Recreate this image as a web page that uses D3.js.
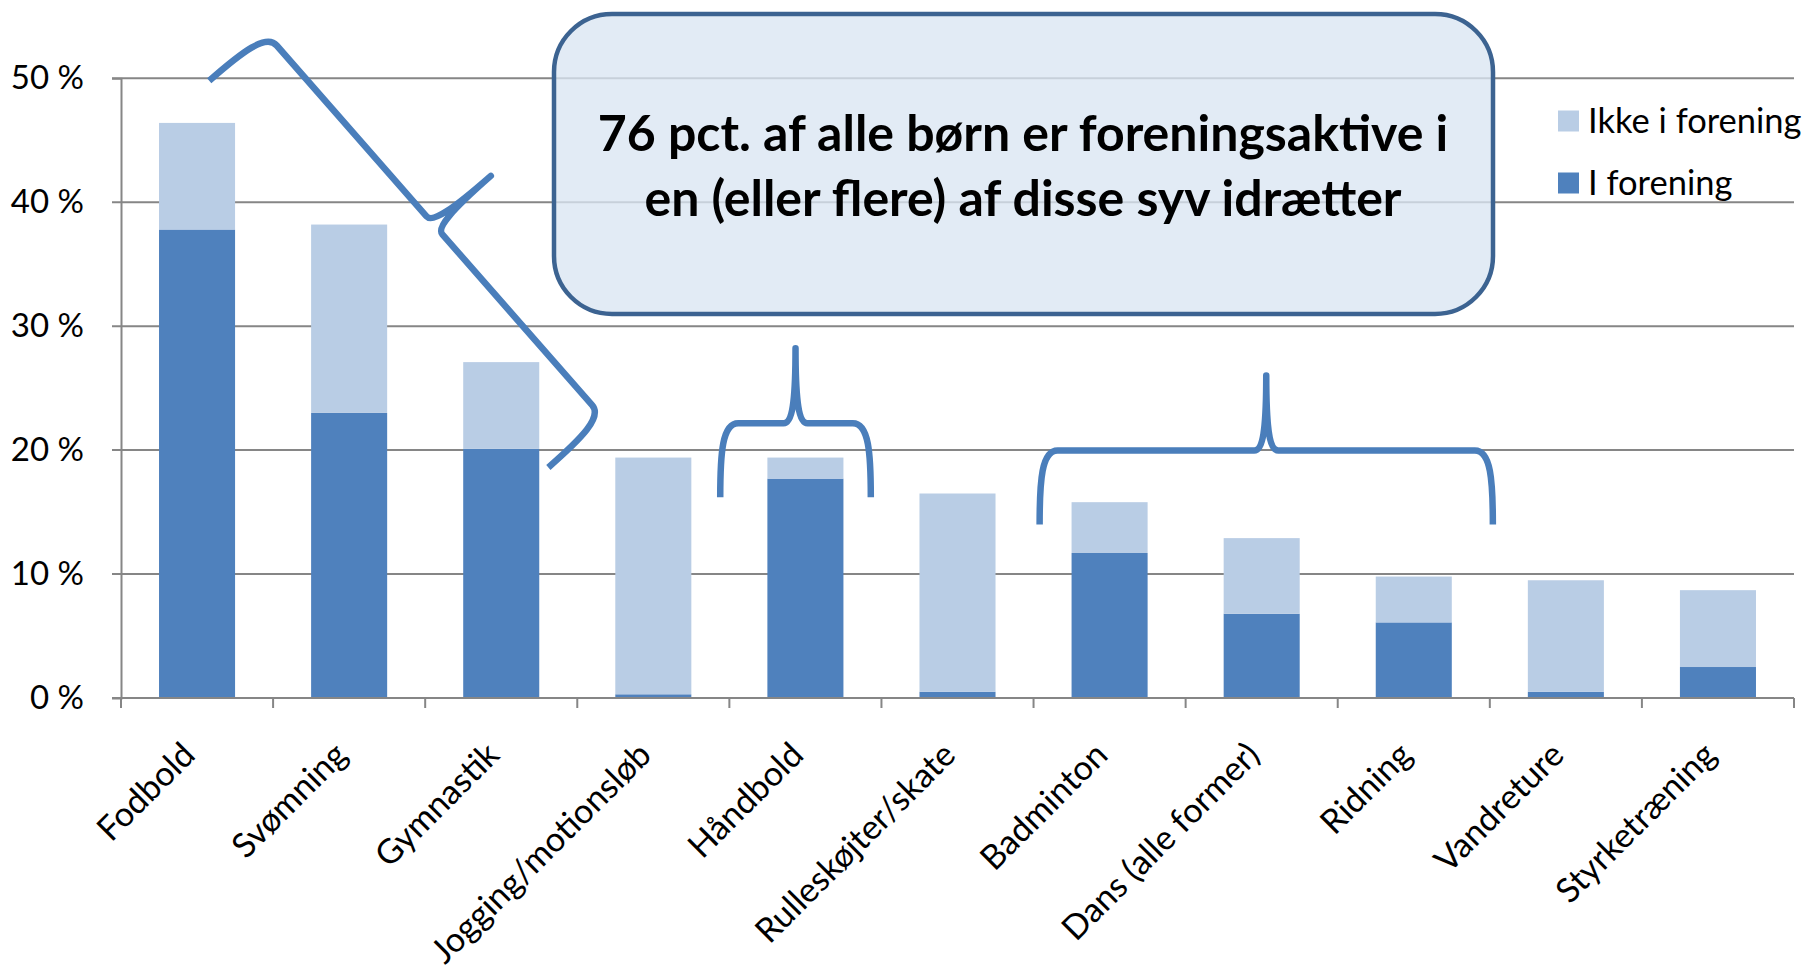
<!DOCTYPE html>
<html>
<head>
<meta charset="utf-8">
<script src="https://cdn.jsdelivr.net/npm/d3@7"></script>
<style>
  html, body { margin: 0; padding: 0; background: #fff; }
  svg { display: block; font-family: Lato, "Open Sans", sans-serif; }
</style>
</head>
<body>
<svg id="chart" width="1806" height="969"></svg>
<script>
// data
const categories = ['Fodbold', 'Svømning', 'Gymnastik', 'Jogging/motionsløb', 'Håndbold',
  'Rulleskøjter/skate', 'Badminton', 'Dans (alle former)', 'Ridning', 'Vandreture', 'Styrketræning'];
const iForening = [37.8, 23.0, 20.1, 0.3, 17.7, 0.5, 11.7, 6.8, 6.1, 0.5, 2.5];
const ikkeIForening = [8.6, 15.2, 7.0, 19.1, 1.7, 16.0, 4.1, 6.1, 3.7, 9.0, 6.2];
const seriesNames = ['I forening', 'Ikke i forening'];
const yTicks = [0, 10, 20, 30, 40, 50];
const calloutLines = ['76 pct. af alle børn er foreningsaktive i', 'en (eller flere) af disse syv idrætter'];
// braces: [band position, value] of both ends
const braces = [
  [[0.58, 49.8], [2.81, 18.6]],
  [[3.94, 16.2], [4.93, 16.2]],
  [[6.04, 14.0], [9.02, 14.0]]
];

const W = 1806, H = 969;
const margin = { top: 78.3, right: 12, bottom: 271, left: 121 };
const colors = { 'I forening': '#4F81BD', 'Ikke i forening': '#B9CDE5' };
const axisColor = '#868686';

const svg = d3.select('#chart');

const x = d3.scaleBand()
  .domain(categories)
  .range([margin.left, W - margin.right])
  .paddingInner(0.5)
  .paddingOuter(0.25);

const y = d3.scaleLinear()
  .domain([0, 50])
  .range([H - margin.bottom, margin.top]);

// fractional band position -> pixel
const bx = d3.scaleLinear().domain([0, categories.length]).range(x.range());

// gridlines
svg.append('g')
  .selectAll('line')
  .data(yTicks)
  .join('line')
  .attr('x1', margin.left - 9)
  .attr('x2', W - margin.right)
  .attr('y1', d => y(d))
  .attr('y2', d => y(d))
  .attr('stroke', axisColor)
  .attr('stroke-width', 2);

// stacked bars
const rows = categories.map((c, i) => ({
  cat: c,
  'I forening': iForening[i],
  'Ikke i forening': ikkeIForening[i]
}));
const stacked = d3.stack().keys(seriesNames)(rows);

svg.append('g')
  .selectAll('g')
  .data(stacked)
  .join('g')
  .attr('fill', d => colors[d.key])
  .selectAll('rect')
  .data(d => d)
  .join('rect')
  .attr('x', d => x(d.data.cat))
  .attr('width', x.bandwidth())
  .attr('y', d => y(d[1]))
  .attr('height', d => y(d[0]) - y(d[1]));

// y axis
const yAxis = svg.append('g')
  .attr('transform', `translate(${margin.left},0)`)
  .call(d3.axisLeft(y).tickValues(yTicks).tickFormat(d => d + ' %').tickSize(9).tickPadding(28));
yAxis.select('.domain').attr('stroke', axisColor).attr('stroke-width', 2);
yAxis.selectAll('.tick line').attr('stroke', 'none');
yAxis.selectAll('.tick text')
  .attr('font-family', 'Lato, sans-serif')
  .attr('font-size', 33)
  .attr('fill', '#000');

// x axis line + ticks at band boundaries
const xAxisY = y(0);
svg.append('line')
  .attr('x1', margin.left).attr('x2', W - margin.right)
  .attr('y1', xAxisY).attr('y2', xAxisY)
  .attr('stroke', axisColor).attr('stroke-width', 2);
svg.append('line')
  .attr('x1', margin.left).attr('x2', margin.left)
  .attr('y1', xAxisY).attr('y2', xAxisY + 10)
  .attr('stroke', axisColor).attr('stroke-width', 2);
svg.append('g')
  .selectAll('line')
  .data(d3.range(1, categories.length + 1))
  .join('line')
  .attr('x1', d => bx(d)).attr('x2', d => bx(d))
  .attr('y1', xAxisY).attr('y2', xAxisY + 10)
  .attr('stroke', axisColor).attr('stroke-width', 2);

// x labels, rotated
svg.append('g')
  .selectAll('text')
  .data(categories)
  .join('text')
  .attr('transform', d => `translate(${x(d) + x.bandwidth() / 2},${xAxisY + 59}) rotate(-45)`)
  .attr('text-anchor', 'end')
  .attr('font-size', 34)
  .attr('fill', '#000')
  .text(d => d);

// legend
const legend = svg.append('g')
  .selectAll('g')
  .data(['Ikke i forening', 'I forening'])
  .join('g')
  .attr('transform', (d, i) => `translate(1558,${121 + i * 62})`);
legend.append('rect')
  .attr('x', 0).attr('y', -10.5)
  .attr('width', 21).attr('height', 21)
  .attr('fill', d => colors[d]);
legend.append('text')
  .attr('x', 30).attr('y', 12)
  .attr('font-size', 34.5)
  .attr('fill', '#000')
  .text(d => d);

// callout box
svg.append('rect')
  .attr('x', 554).attr('y', 14)
  .attr('width', 939).attr('height', 300)
  .attr('rx', 58).attr('ry', 58)
  .attr('fill', '#DAE5F2').attr('fill-opacity', 0.78)
  .attr('stroke', '#3C6391').attr('stroke-width', 4.5);

svg.append('g')
  .selectAll('text')
  .data(calloutLines)
  .join('text')
  .attr('x', 1023)
  .attr('y', (d, i) => 151 + i * 65)
  .attr('text-anchor', 'middle')
  .attr('font-size', 50)
  .attr('font-weight', 'bold')
  .attr('fill', '#000')
  .text(d => d);

// curly braces
const depth = 74, tip = 75, rc = 12;
function bracePath(a, b) {
  const x1 = bx(a[0]), y1 = y(a[1]), x2 = bx(b[0]), y2 = y(b[1]);
  const L = Math.hypot(x2 - x1, y2 - y1);
  const ax = (x2 - x1) / L, ay = (y2 - y1) / L;
  const nx = ay, ny = -ax;
  const P = (u, v) => [x1 + u * ax + v * nx, y1 + u * ay + v * ny];
  const m = L / 2;
  const p = d3.path();
  const mv = (u, v) => { const q = P(u, v); p.moveTo(q[0], q[1]); };
  const ln = (u, v) => { const q = P(u, v); p.lineTo(q[0], q[1]); };
  const cb = (u1, v1, u2, v2, u, v) => {
    const c1 = P(u1, v1), c2 = P(u2, v2), q = P(u, v);
    p.bezierCurveTo(c1[0], c1[1], c2[0], c2[1], q[0], q[1]);
  };
  mv(0, 0);
  cb(0, depth * 0.6, 2, depth, rc + 6, depth);
  ln(m - rc, depth);
  cb(m - 3, depth, m, depth + tip * 0.3, m, depth + tip);
  cb(m, depth + tip * 0.3, m + 3, depth, m + rc, depth);
  ln(L - rc - 6, depth);
  cb(L - 2, depth, L, depth * 0.6, L, 0);
  return p.toString();
}

svg.append('g')
  .selectAll('path')
  .data(braces)
  .join('path')
  .attr('d', d => bracePath(d[0], d[1]))
  .attr('fill', 'none')
  .attr('stroke', '#4A7EBB')
  .attr('stroke-width', 6.5)
  .attr('stroke-linejoin', 'round');
</script>
</body>
</html>
